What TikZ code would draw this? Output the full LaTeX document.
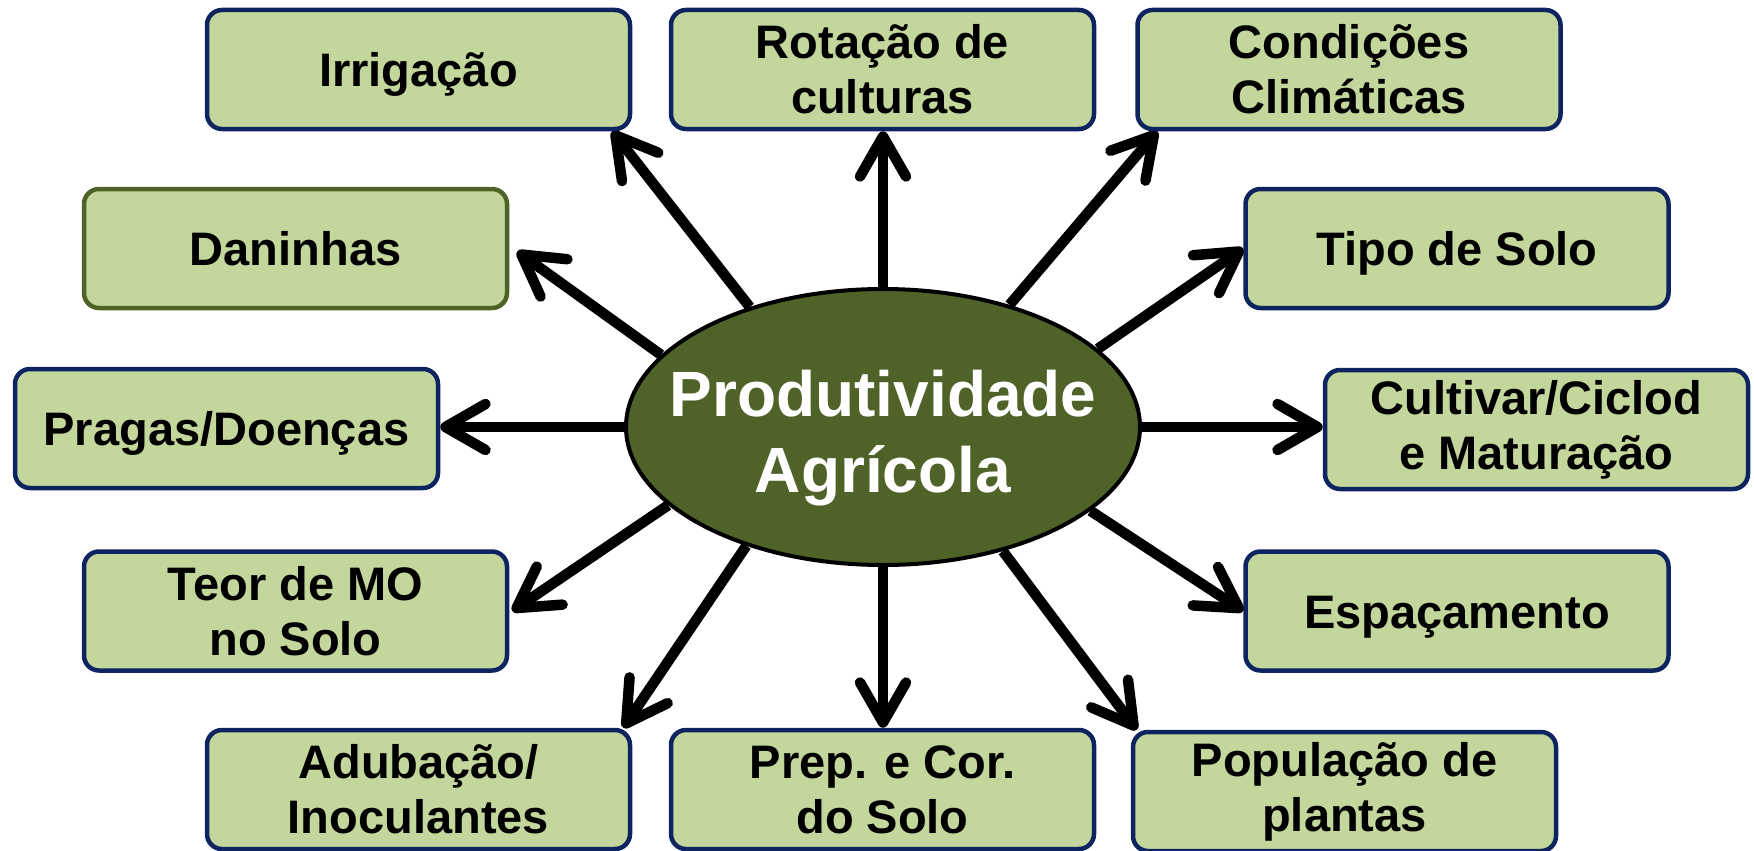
\documentclass[tikz,border=0pt]{standalone}
\usepackage{fontspec}
\setmainfont{Liberation Sans}
\usetikzlibrary{shapes.geometric,arrows.meta,backgrounds}
\definecolor{boxfill}{HTML}{C3D69B}
\definecolor{navy}{HTML}{0E2461}
\definecolor{olive}{HTML}{4F6228}
\begin{document}
\begin{tikzpicture}[x=1pt,y=-1pt,
  factor/.style={draw=navy, line width=4.5pt, fill=boxfill, rounded corners=15pt,
    minimum width=423pt, minimum height=119pt, inner sep=0pt, align=center,
    font=\fontsize{47}{55}\selectfont\bfseries},
  oneline/.style={text height=34pt, text depth=0pt},
  hub/.style={ellipse, draw=black, line width=4pt, fill=olive,
    minimum width=514pt, minimum height=276pt, inner sep=0pt},
  hubtext/.style={align=center, text=white, inner sep=0pt,
    font=\fontsize{64}{76}\selectfont\bfseries},
  arr/.style={line width=10.5pt, -{Straight Barb[length=40pt,width=46pt,round]}}]
\useasboundingbox (0,0) rectangle (1754,851);
\node[hub] (e) at (883,427) {};
\node[hubtext] (lbl) at (883,438) {Produtividade\\Agrícola};

\node[factor, oneline] (irr) at (418.5,69.5) {Irrigação};
\node[factor] (rot) at (882.5,69.5) {Rotação de\\culturas};
\node[factor] (cond) at (1349,69.5) {Condições\\Climáticas};
\node[factor, oneline, draw=olive] (dan) at (295.5,248.5) {Daninhas};
\node[factor, oneline] (tipo) at (1457,248.5) {Tipo de Solo};
\node[factor, oneline] (prag) at (226.5,428.5) {Pragas/Doenças};
\node[factor] (cult) at (1536.5,429.5) {Cultivar/Ciclod\\e Maturação};
\node[factor] (teor) at (295.5,611) {Teor de MO\\no Solo};
\node[factor, oneline] (esp) at (1457,611) {Espaçamento};
\node[factor] (adub) at (418.5,789.5) {Adubação/\\Inoculantes};
\node[factor] (prep) at (882.5,789.5) {Prep. e Cor.\\do Solo};
\node[factor] (pop) at (1344.5,791.5) {População de\\plantas};

\begin{scope}[on background layer]
\draw[arr] (e.138.8) -- ([xshift=-20pt]irr.south east);
\draw[arr] (e.90) -- (e.90 |- rot.south);
\draw[arr] (e.44.1) -- ([xshift=22pt]cond.south west);
\draw[arr] (e.162.9) -- ([xshift=8pt,yshift=-3pt]dan.east);
\draw[arr] (e.20.8) -- (tipo.west);
\draw[arr] (e.180) -- (e.180 -| prag.east);
\draw[arr] (e.0) -- (e.0 -| cult.west);
\draw[arr] (e.200.4) -- ([xshift=3pt]teor.east);
\draw[arr] (e.-22) -- (esp.west);
\draw[arr] (e.221.7) -- ([xshift=-9pt]adub.north east);
\draw[arr] (e.270) -- (e.270 |- prep.north);
\draw[arr] (e.-46.4) -- ([xshift=6pt]pop.north west);
\end{scope}
\end{tikzpicture}
\end{document}
